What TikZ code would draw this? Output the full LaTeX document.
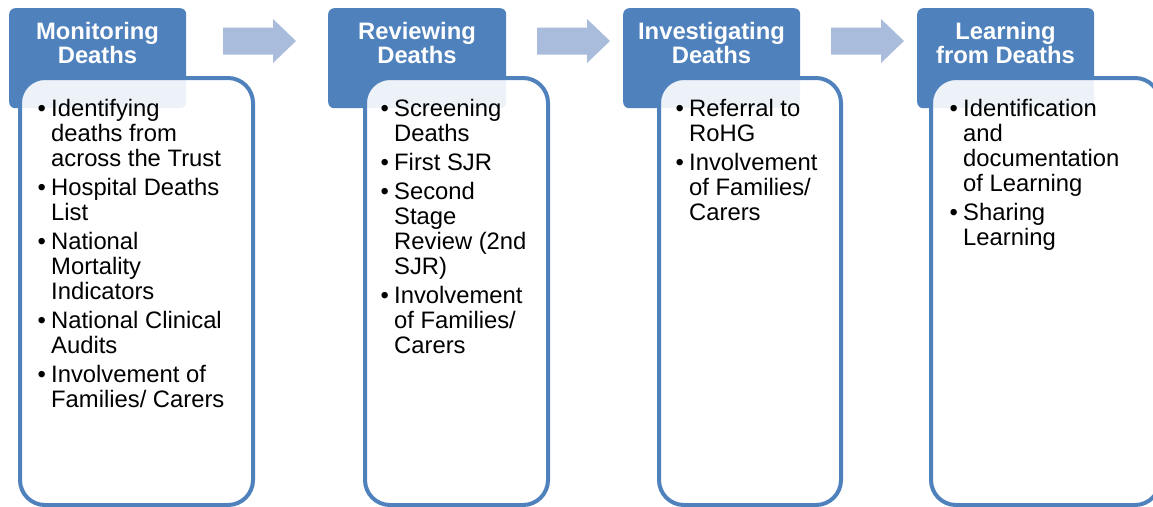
\documentclass[tikz,border=0pt]{standalone}
\usepackage{fontspec}
\setmainfont{Liberation Sans}
\usepackage{tikz}
\usetikzlibrary{positioning}
\definecolor{boxblue}{HTML}{4F81BD}
\definecolor{arrowblue}{HTML}{A9BCDB}
\newcommand{\bl}{\makebox[13.5pt][l]{\textbullet}}
\tikzset{
    header/.style = {fill=boxblue, rounded corners=6pt, inner sep=0pt,
                     minimum height=100pt, anchor=north west},
   hdrtext/.style = {font=\bfseries\fontsize{23.8}{24}\selectfont,
                     text=white, inner sep=0pt, anchor=base},
   listbox/.style = {draw=boxblue, line width=4pt, fill=white,
                     fill opacity=0.9, rounded corners=25pt, inner sep=0pt,
                     minimum height=427pt, anchor=north west},
  listtext/.style = {font=\fontsize{23.8}{25}\selectfont, inner sep=0pt,
                     anchor=base west},
      flow/.style = {fill=arrowblue},   % block arrows between the steps
        }

\begin{document}
\begin{tikzpicture}[x=1pt,y=-1pt]
  \useasboundingbox (0,0) rectangle (1153,506);
  \clip (0,0) rectangle (1153,506);

  % block arrows
  \foreach \x in {223,537,831}
    \fill[flow] (\x,27.5) -- ++(50,0) -- ++(0,-8.5) -- ++(23,22) -- ++(-23,22)
                -- ++(0,-8.5) -- ++(-50,0) -- cycle;

  % step headers
  \node[header, minimum width=177pt] (hdr1) at (9,8) {};
  \node[header, minimum width=178pt] (hdr2) at (328,8) {};
  \node[header, minimum width=177pt] (hdr3) at (623,8) {};
  \node[header, minimum width=177pt] (hdr4) at (917,8) {};
  \node[hdrtext] (title1) at (97.5,39)
    {\begin{tabular}[t]{@{}c@{}}Monitoring\\Deaths\end{tabular}};
  \node[hdrtext] (title2) at (417,39)
    {\begin{tabular}[t]{@{}c@{}}Reviewing\\Deaths\end{tabular}};
  \node[hdrtext] (title3) at (711.5,39)
    {\begin{tabular}[t]{@{}c@{}}Investigating\\Deaths\end{tabular}};
  \node[hdrtext] (title4) at (1005.5,39)
    {\begin{tabular}[t]{@{}c@{}}Learning\\from Deaths\end{tabular}};

  % content boxes
  \node[listbox, minimum width=233pt] (box1) at (18,76) {};
  \node[listbox, minimum width=183pt] (box2) at (363,76) {};
  \node[listbox, minimum width=182pt] (box3) at (657,76) {};
  \node[listbox, minimum width=229pt] (box4) at (929,76) {};

  \node[listtext] (list1) at (37.5,116) {\begin{tabular}[t]{@{}l@{}l@{}}
    \bl & Identifying\\ & deaths from\\ & across the Trust\\[4pt]
    \bl & Hospital Deaths\\ & List\\[4pt]
    \bl & National\\ & Mortality\\ & Indicators\\[4pt]
    \bl & National Clinical\\ & Audits\\[4pt]
    \bl & Involvement of\\ & Families/ Carers
  \end{tabular}};
  \node[listtext] (list2) at (380.5,116) {\begin{tabular}[t]{@{}l@{}l@{}}
    \bl & Screening\\ & Deaths\\[4pt]
    \bl & First SJR\\[4pt]
    \bl & Second\\ & Stage\\ & Review (2nd\\ & SJR)\\[4pt]
    \bl & Involvement\\ & of Families/\\ & Carers
  \end{tabular}};
  \node[listtext] (list3) at (675.5,116) {\begin{tabular}[t]{@{}l@{}l@{}}
    \bl & Referral to\\ & RoHG\\[4pt]
    \bl & Involvement\\ & of Families/\\ & Carers
  \end{tabular}};
  \node[listtext] (list4) at (949.5,116) {\begin{tabular}[t]{@{}l@{}l@{}}
    \bl & Identification\\ & and\\ & documentation\\ & of Learning\\[4pt]
    \bl & Sharing\\ & Learning
  \end{tabular}};
\end{tikzpicture}
\end{document}
